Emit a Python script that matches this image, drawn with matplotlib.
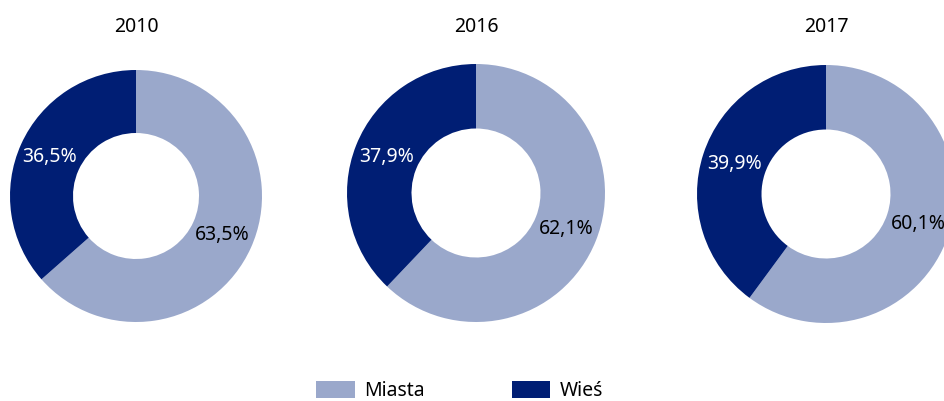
import matplotlib.pyplot as plt
from matplotlib.patches import Patch

plt.rcParams['font.family'] = ['Noto Sans', 'DejaVu Sans']

years = ['2010', '2016', '2017']
miasta = [63.5, 62.1, 60.1]
wies = [36.5, 37.9, 39.9]
series_names = ['Miasta', 'Wieś']
colors = ['#9AA8CB', '#001E74']

W, H = 945, 401
fig = plt.figure(figsize=(W / 100, H / 100), dpi=100)

# donut centres and radii in pixels (x, y from top, r)
spots = [(136, 196, 126), (476, 193, 129), (826, 194, 129)]

for i in range(len(years)):
    cx, cy, r = spots[i]
    ax = fig.add_axes([(cx - r) / W, (H - cy - r) / H, 2 * r / W, 2 * r / H])
    vals = [miasta[i], wies[i]]
    wedges, texts, autotexts = ax.pie(
        vals, colors=colors, startangle=90, counterclock=False,
        radius=1, wedgeprops=dict(width=0.5, linewidth=0),
        autopct=lambda p: ('%.1f%%' % p).replace('.', ','),
        pctdistance=0.75, textprops=dict(fontsize=14))
    autotexts[0].set_color('black')
    autotexts[1].set_color('white')
    ax.set_xlim(-1, 1)
    ax.set_ylim(-1, 1)
    ax.axis('off')
    fig.text(cx / W, (H - 27) / H, years[i], ha='center', va='center', fontsize=14)

handles = [Patch(facecolor=c, edgecolor='none') for c in colors]
fig.legend(handles, series_names, loc='center', bbox_to_anchor=(460 / W, (H - 391) / H),
           ncol=2, frameon=False, fontsize=14, handlelength=1.96, handleheight=0.93,
           handletextpad=0.5, columnspacing=4.5)

fig.savefig('out.png', dpi=100)
